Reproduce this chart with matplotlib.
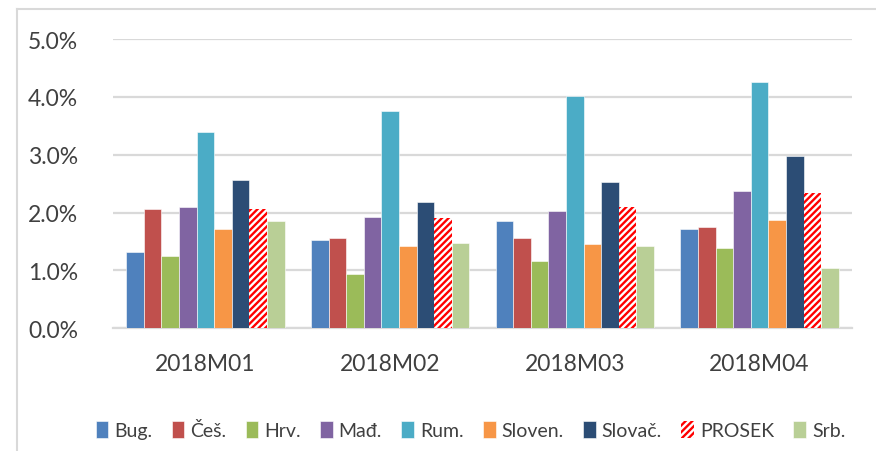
import matplotlib.pyplot as plt
import numpy as np

months = ["2018M01", "2018M02", "2018M03", "2018M04"]
countries = ["Bug.", "Češ.", "Hrv.", "Mađ.", "Rum.", "Sloven.", "Slovač.", "PROSEK", "Srb."]

bug = [1.32, 1.52, 1.86, 1.71]
ces = [2.06, 1.56, 1.56, 1.75]
hrv = [1.25, 0.93, 1.17, 1.39]
mad = [2.10, 1.92, 2.03, 2.37]
rum = [3.40, 3.76, 4.01, 4.25]
slo = [1.72, 1.42, 1.45, 1.87]
svk = [2.57, 2.19, 2.52, 2.98]
prosek = [2.06, 1.90, 2.09, 2.33]
srb = [1.86, 1.48, 1.42, 1.05]

series = [bug, ces, hrv, mad, rum, slo, svk, prosek, srb]
colors = ["#4f81bd", "#c0504d", "#9bbb59", "#8064a2", "#4bacc6",
          "#f79646", "#2c4d75", "white", "#b9cf96"]

plt.rcParams['font.family'] = ['Lato', 'DejaVu Sans']
plt.rcParams['hatch.linewidth'] = 1.7
text_col = "#404040"

fig = plt.figure(figsize=(8.76, 4.52), dpi=100)
ax = fig.add_axes([0.129, 0.2715, 0.8436, 0.64])

x = np.arange(len(months))
w = 0.0952
for i, (name, vals, c) in enumerate(zip(countries, series, colors)):
    pos = x + (i - 4) * w
    if name == "PROSEK":
        ax.bar(pos, np.array(vals) / 100, w, color="white", edgecolor="red",
               hatch="/////", linewidth=0, label=name, zorder=3)
    else:
        ax.bar(pos, np.array(vals) / 100, w, color=c, edgecolor="white",
               linewidth=0.4, label=name, zorder=3)

ax.set_xlim(-0.5, 3.5)
ax.set_ylim(0, 0.05)
ax.set_yticks(np.arange(0, 0.051, 0.01))
ax.yaxis.set_major_formatter(plt.FuncFormatter(lambda v, p: f"{v*100:.1f}%"))
ax.set_xticks(x)
ax.set_xticklabels(months)
ax.grid(axis="y", color="#d9d9d9", linewidth=1.6, zorder=0)
for s in ["top", "right", "left"]:
    ax.spines[s].set_visible(False)
ax.spines["bottom"].set_color("#d9d9d9")
ax.spines["bottom"].set_linewidth(1.6)
ax.tick_params(axis="both", length=0, labelsize=16.5, colors=text_col)
ax.tick_params(axis="y", pad=25)
ax.tick_params(axis="x", pad=18)

leg = fig.legend(loc="center", bbox_to_anchor=(0.537, 0.046), ncol=9, frameon=False,
                 fontsize=14, handlelength=0.65, handleheight=0.9, handletextpad=0.3,
                 columnspacing=1.0)
for t in leg.get_texts():
    t.set_color(text_col)

# chart frame (left and top edges visible)
fig.add_artist(plt.Line2D([0.0195, 0.0195], [0, 0.978], color="#d9d9d9", lw=1.5))
fig.add_artist(plt.Line2D([0.0195, 1.0], [0.978, 0.978], color="#d9d9d9", lw=1.5))

fig.savefig("out.png", dpi=100)
